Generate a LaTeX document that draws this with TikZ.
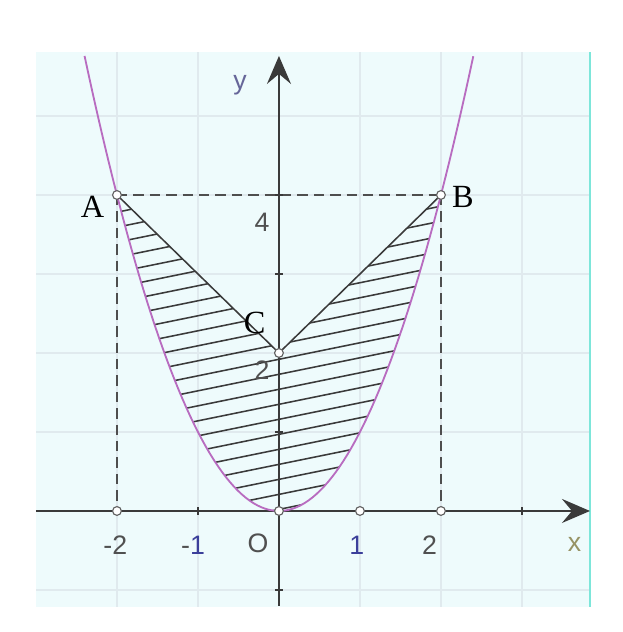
\documentclass[tikz,border=0pt]{standalone}
\usepackage{fontspec}
\setmainfont{Liberation Serif}
\setsansfont{Liberation Sans}
\usetikzlibrary{arrows.meta}
\definecolor{plotbg}{HTML}{EEFBFC}
\definecolor{plotgrid}{HTML}{E0EAEE}
\definecolor{plotedge}{HTML}{7DE6DA}
\definecolor{curvecol}{HTML}{B86CC0}
\definecolor{axiscol}{HTML}{3A3A3A}
\definecolor{ticknum}{HTML}{505050}
\definecolor{tickblue}{HTML}{3B3F9A}
\tikzset{
  axis/.style={
    line width=1.2pt,
    draw=axiscol,
    -{Stealth[length=7mm,width=6mm,inset=2.5mm]}
  },
  gridline/.style={
    line width=0.8pt,
    draw=plotgrid
  },
  guide/.style={
    dashed,
    dash pattern=on 2.6mm off 1.5mm,
    line width=1.5pt,
    draw=axiscol!90
  },
  hatch/.style={
    line width=1.1pt,
    draw=axiscol
  },
  curve/.style={
    line width=1.3pt,
    draw=curvecol
  },
  pt/.style={
    circle,
    draw=axiscol!80,
    fill=white,
    line width=0.8pt,
    inner sep=0pt,
    minimum size=2.2mm
  },
  ptlabel/.style={
    font=\fontsize{23}{25}\selectfont,
    text=black
  },
  num/.style={
    font=\sffamily\fontsize{19}{21}\selectfont,
    text=ticknum
  }
}

\begin{document}
\begin{tikzpicture}[x=2.025cm,y=1.975cm]

\useasboundingbox (-3.444,-1.532) rectangle (4.247,6.468);

% background and grid
\fill[plotbg] (-3,-1.215) rectangle (3.84,5.81);
\foreach \gx in {-2,-1,1,2,3}
  \draw[gridline] (\gx,-1.215) -- (\gx,5.81);
\foreach \gy in {-1,1,2,3,4,5}
  \draw[gridline] (-3,\gy) -- (3.84,\gy);
\draw[line width=1.6pt, plotedge] (3.84,-1.215) -- (3.84,5.81);

\coordinate (O) at (0,0);
\coordinate (A) at (-2,4);
\coordinate (B) at (2,4);
\coordinate (C) at (0,2);
\coordinate (Ax) at (-2,0);
\coordinate (Bx) at (2,0);

% hatched region
\begin{scope}
  \clip (A) -- (C) -- (B) -- plot[domain=2:-2, samples=60] (\x,{\x*\x}) -- cycle;
  \foreach \c in {-0.55,-0.36,...,4.6}
    \draw[hatch] (-2.2,{\c-0.46}) -- (2.2,{\c+0.46});
\end{scope}

\draw[hatch] (A) -- (C) -- (B);
\draw[guide] (A) -- (B);
\draw[guide] (A) -- (Ax);
\draw[guide] (B) -- (Bx);

% axes
\coordinate (xl) at (-3,0);
\coordinate (xr) at (3.84,0);
\coordinate (yb) at (0,-1.2);
\coordinate (yt) at (0,5.76);
\draw[axis] (xl) -- (xr);
\draw[axis] (yb) -- (yt);
\foreach \tx in {-1,3}
  \draw[axis, -] (\tx,-0.05) -- (\tx,0.05);
\foreach \ty in {-1,1,3,4}
  \draw[axis, -] (-0.05,\ty) -- (0.05,\ty);

\draw[curve] plot[domain=-2.4:2.4, samples=100] (\x,{\x*\x});

% points
\node[pt] (pA) at (A) {};
\node[pt] (pB) at (B) {};
\node[pt] (pC) at (C) {};
\node[pt] (pO) at (O) {};
\node[pt] (pAx) at (Ax) {};
\node[pt] (pBx) at (Bx) {};
\node[pt] (p1) at (1,0) {};

% labels
\node[ptlabel] (lA) at (-2.30,3.85) {A};
\node[ptlabel] (lB) at (2.27,3.97) {B};
\node[ptlabel] (lC) at (-0.30,2.38) {C};
\node[num] (l4) at (-0.21,3.66) {4};
\node[num] (l2y) at (-0.21,1.78) {2};
\node[num] (lm2) at (-2.02,-0.43) {-2};
\node[num] (lm1) at (-1.06,-0.43) {-\textcolor{tickblue}{1}};
\node[num] (lO) at (-0.26,-0.41) {O};
\node[num, text=tickblue] (l1) at (0.96,-0.43) {1};
\node[num] (l2x) at (1.86,-0.43) {2};
\node[num, text=black!45!yellow!60!gray] (lx) at (3.65,-0.43) {x};
\node[num, text=gray!80!blue] (ly) at (-0.48,5.39) {y};

\end{tikzpicture}
\end{document}
